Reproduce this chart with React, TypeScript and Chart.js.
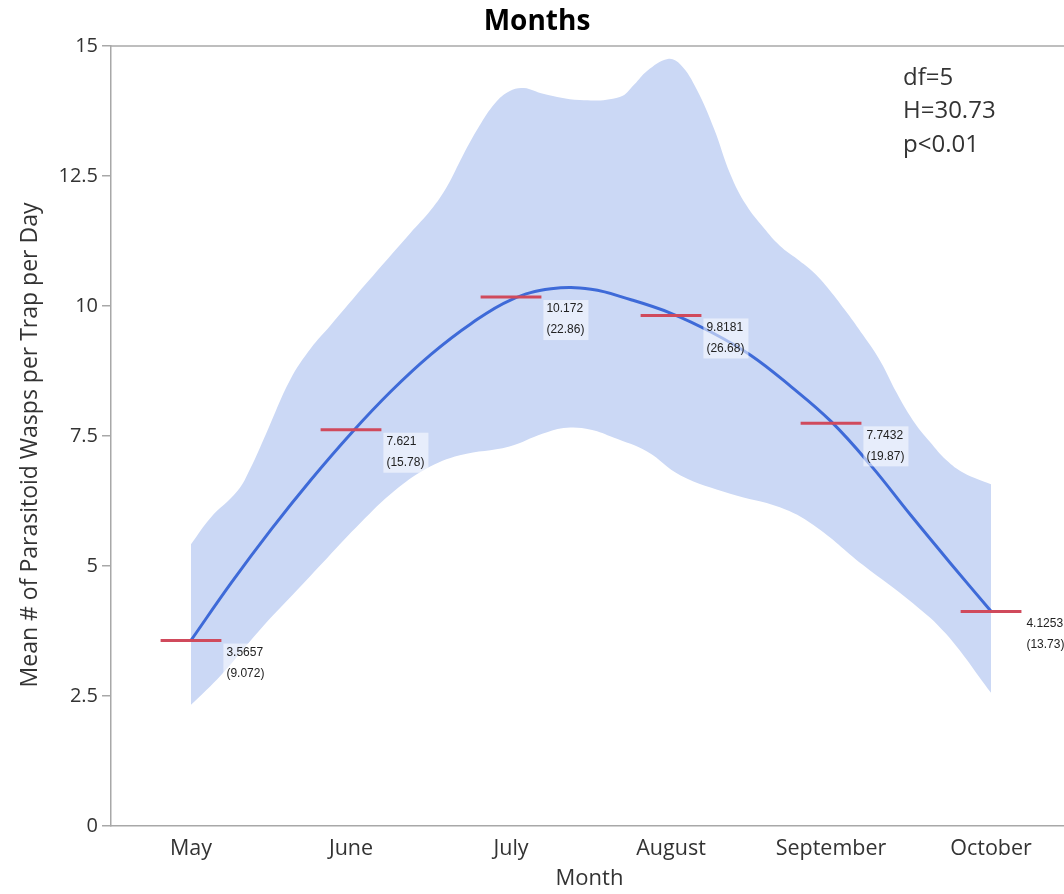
import React, { useEffect, useRef } from "react";
import { Chart, registerables } from "chart.js";

Chart.register(...registerables);

const months = ["May", "June", "July", "August", "September", "October"];
const means = [3.5657, 7.621, 10.172, 9.8181, 7.7432, 4.1253];
const counts = ["9.072", "15.78", "22.86", "26.68", "19.87", "13.73"];
const yTicks = [0, 2.5, 5, 7.5, 10, 12.5, 15];
const stats = ["df=5", "H=30.73", "p<0.01"];

const curveX = [0, 0.25, 0.5, 0.75, 1, 1.25, 1.5, 1.75, 2, 2.25, 2.5, 2.75, 3, 3.25, 3.5, 3.75, 4, 4.25, 4.5, 4.75, 5];
const curveY = [3.57, 4.67, 5.7, 6.66, 7.55, 8.36, 9.07, 9.66, 10.12, 10.33, 10.32, 10.12, 9.86, 9.5, 9.05, 8.45, 7.78, 6.93, 5.97, 5.04, 4.13];

const upperX = [0, 0.12, 0.29, 0.37, 0.47, 0.62, 0.75, 0.87, 1.1, 1.37, 1.5, 1.6, 1.7, 1.8, 1.9, 1.99, 2.08, 2.2, 2.43, 2.68, 2.77, 2.85, 2.98, 3.06, 3.16, 3.27, 3.37, 3.47, 3.58, 3.68, 3.79, 3.89, 3.99, 4.1, 4.2, 4.31, 4.41, 4.51, 4.62, 4.72, 4.83, 5];
const upperY = [5.42, 5.92, 6.44, 6.87, 7.55, 8.58, 9.19, 9.62, 10.45, 11.4, 11.85, 12.3, 12.9, 13.45, 13.9, 14.13, 14.19, 14.08, 13.96, 14.02, 14.26, 14.52, 14.75, 14.64, 14.17, 13.4, 12.54, 11.94, 11.5, 11.16, 10.9, 10.65, 10.31, 9.87, 9.44, 8.93, 8.33, 7.81, 7.38, 7.04, 6.79, 6.57];

const lowerX = [0, 0.19, 0.43, 0.64, 0.85, 1.06, 1.27, 1.47, 1.68, 1.99, 2.2, 2.35, 2.5, 2.64, 2.85, 3.06, 3.37, 3.68, 3.89, 4.2, 4.51, 4.72, 5];
const lowerY = [2.33, 2.91, 3.77, 4.46, 5.15, 5.83, 6.44, 6.87, 7.13, 7.3, 7.55, 7.66, 7.62, 7.47, 7.2, 6.74, 6.39, 6.13, 5.79, 5.02, 4.29, 3.69, 2.56];

const FONT = '"Open Sans", "Noto Sans", sans-serif';
const AXIS = "#a8a8a8";
const TEXT = "#333333";

const overlay = {
  id: "overlay",
  afterDatasetsDraw(chart: any) {
    const { ctx, scales } = chart;
    const x = scales.x;
    const y = scales.y;
    ctx.save();
    means.forEach((m, i) => {
      const py = y.getPixelForValue(m);
      const x0 = x.getPixelForValue(i - 0.19);
      const x1 = x.getPixelForValue(i + 0.19);
      ctx.strokeStyle = "#d04a5c";
      ctx.lineWidth = 3;
      ctx.beginPath();
      ctx.moveTo(x0, py);
      ctx.lineTo(x1, py);
      ctx.stroke();
      ctx.font = '12px "Liberation Sans", Arial, sans-serif';
      const l1 = String(m);
      const l2 = "(" + counts[i] + ")";
      const w = Math.max(ctx.measureText(l1).width, ctx.measureText(l2).width);
      ctx.fillStyle = "rgba(255,255,255,0.55)";
      ctx.fillRect(x1 + 2, py + 3, w + 7, 40);
      ctx.fillStyle = "#222";
      ctx.textAlign = "left";
      ctx.textBaseline = "middle";
      ctx.fillText(l1, x1 + 5, py + 12);
      ctx.fillText(l2, x1 + 5, py + 33);
    });
    ctx.restore();
  },
  afterDraw(chart: any) {
    const { ctx, chartArea } = chart;
    ctx.save();
    ctx.strokeStyle = AXIS;
    ctx.lineWidth = 1.5;
    ctx.beginPath();
    ctx.moveTo(chartArea.left, chartArea.top);
    ctx.lineTo(chartArea.right, chartArea.top);
    ctx.stroke();
    ctx.fillStyle = "#000";
    ctx.font = "bold 28px " + FONT;
    ctx.textAlign = "center";
    ctx.textBaseline = "middle";
    ctx.fillText("Months", chart.width / 2 + 5, 22);
    ctx.fillStyle = TEXT;
    ctx.font = "22px " + FONT;
    ctx.fillText("Month", (chartArea.left + chartArea.right) / 2 + 2, 879);
    ctx.save();
    ctx.translate(30, 445);
    ctx.rotate(-Math.PI / 2);
    ctx.font = "23px " + FONT;
    ctx.fillText("Mean # of Parasitoid Wasps per Trap per Day", 0, 0);
    ctx.restore();
    ctx.font = "24px " + FONT;
    ctx.textAlign = "left";
    stats.forEach((s, i) => {
      ctx.fillText(s, chartArea.left + 792, 78 + i * 33.5);
    });
    ctx.restore();
  },
};

export default function App() {
  const ref = useRef<HTMLCanvasElement | null>(null);
  useEffect(() => {
    if (!ref.current) return;
    const band = "rgb(203,216,245)";
    const chart = new Chart(ref.current, {
      type: "line",
      data: {
        datasets: [
          {
            data: upperX.map((v, i) => ({ x: v, y: upperY[i] })),
            borderWidth: 0,
            borderColor: band,
            backgroundColor: band,
            pointRadius: 0,
            tension: 0.4,
            fill: "+1",
            order: 2,
          },
          {
            data: lowerX.map((v, i) => ({ x: v, y: lowerY[i] })),
            borderWidth: 0,
            borderColor: band,
            backgroundColor: band,
            pointRadius: 0,
            tension: 0.4,
            fill: false,
            order: 2,
          },
          {
            data: curveX.map((v, i) => ({ x: v, y: curveY[i] })),
            borderWidth: 3,
            borderColor: "#3e6ad8",
            pointRadius: 0,
            tension: 0.4,
            fill: false,
            order: 0,
          },
        ],
      },
      options: {
        animation: false,
        responsive: false,
        layout: { padding: { top: 46, right: 0, left: 0, bottom: 0 } },
        plugins: { legend: { display: false }, tooltip: { enabled: false }, title: { display: false } },
        scales: {
          x: {
            type: "linear",
            min: -0.5,
            max: 5.456,
            afterBuildTicks: (s: any) => {
              s.ticks = months.map((_, i) => ({ value: i }));
            },
            afterFit: (s: any) => {
              s.height = 68;
            },
            ticks: {
              callback: (v: any) => months[v] ?? "",
              font: { family: FONT, size: 21.5 },
              color: TEXT,
              padding: 2,
              maxRotation: 0,
              autoSkip: false,
            },
            grid: { display: false },
            border: { display: true, color: AXIS, width: 1.5 },
          },
          y: {
            min: 0,
            max: 15,
            afterBuildTicks: (s: any) => {
              s.ticks = yTicks.map((v) => ({ value: v }));
            },
            afterFit: (s: any) => {
              s.width = 111;
            },
            ticks: {
              font: { family: FONT, size: 20 },
              color: TEXT,
              padding: 4,
            },
            grid: { drawOnChartArea: false, drawTicks: true, tickLength: 9, color: AXIS, lineWidth: 1.5 },
            border: { display: true, color: AXIS, width: 1.5 },
          },
        },
      },
      plugins: [overlay],
    });
    return () => chart.destroy();
  }, []);
  return (
    <div style={{ position: "fixed", left: 0, top: 0, width: 1064, height: 894, background: "#fff" }}>
      <canvas ref={ref} width={1064} height={894} />
    </div>
  );
}
